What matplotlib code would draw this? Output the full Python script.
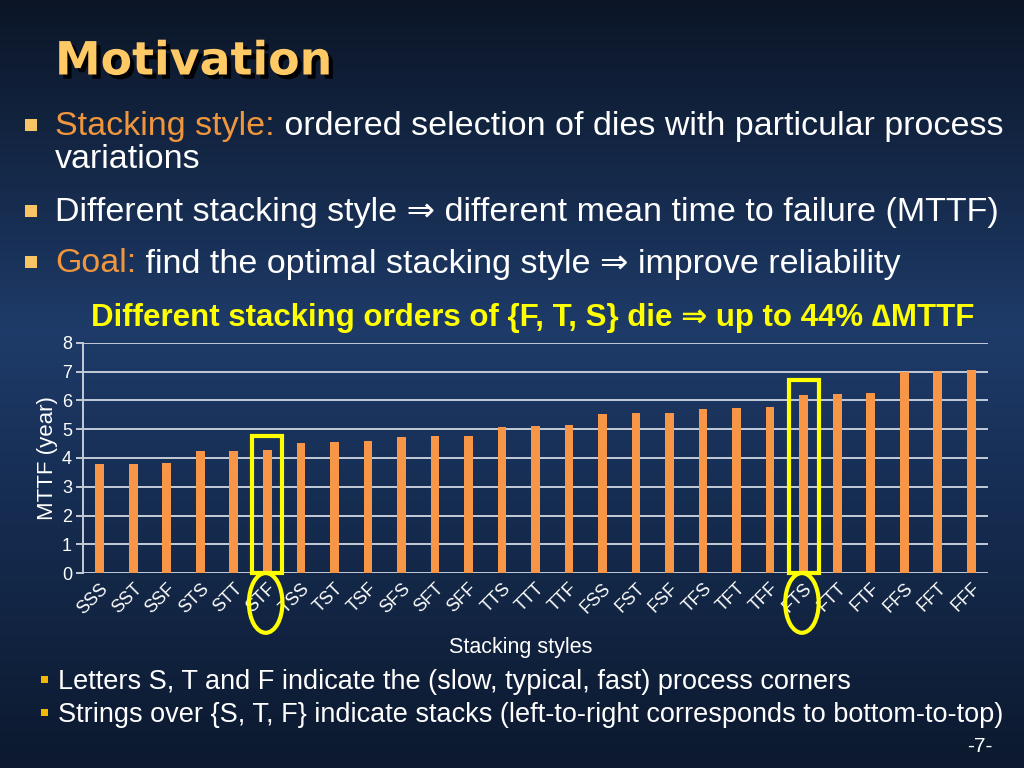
import matplotlib
matplotlib.use("Agg")
import matplotlib.pyplot as plt
import matplotlib.transforms as mtransforms
from matplotlib.patches import Rectangle, Ellipse
import matplotlib.patheffects as pe
import numpy as np

# dane wykresu
styles = ['SSS', 'SST', 'SSF', 'STS', 'STT', 'STF', 'TSS', 'TST', 'TSF',
          'SFS', 'SFT', 'SFF', 'TTS', 'TTT', 'TTF', 'FSS', 'FST', 'FSF',
          'TFS', 'TFT', 'TFF', 'FTS', 'FTT', 'FTF', 'FFS', 'FFT', 'FFF']
mttf = [3.79, 3.79, 3.81, 4.23, 4.26, 4.28, 4.53, 4.56, 4.59,
        4.74, 4.77, 4.78, 5.08, 5.10, 5.14, 5.52, 5.55, 5.58,
        5.70, 5.73, 5.76, 6.20, 6.23, 6.27, 6.99, 7.01, 7.06]
highlight = ['STF', 'FTS']
yticks = [0, 1, 2, 3, 4, 5, 6, 7, 8]

W, H = 1024, 768
ORANGE = '#F0963C'
BAR = '#F79646'
SANS = ['Liberation Sans', 'DejaVu Sans']

fig = plt.figure(figsize=(10.24, 7.68), dpi=100)

# tło z gradientem
bg = fig.add_axes([0, 0, 1, 1])
stops_y = [0, 330, 500, 768]
stops_c = np.array([[0x0b, 0x15, 0x26], [0x1e, 0x3b, 0x69], [0x16, 0x2d, 0x52], [0x0c, 0x19, 0x2e]]) / 255
rows = np.arange(H)
grad = np.stack([np.interp(rows, stops_y, stops_c[:, k]) for k in range(3)], axis=1)
img = np.repeat(grad[:, None, :], W, axis=1)
bg.imshow(img, extent=[0, W, H, 0], aspect='auto')
bg.set_xlim(0, W)
bg.set_ylim(H, 0)
bg.axis('off')


def pieces(x, y, parts, size, family=SANS, weight='normal'):
    "tekst z kilku kolorowych kawałków w jednej linii"
    r = fig.canvas.get_renderer()
    for txt, col in parts:
        t = bg.text(x, y, txt, color=col, fontsize=size, family=family,
                    weight=weight, va='center', ha='left')
        bb = t.get_window_extent(renderer=r)
        x += bb.width * W / fig.bbox.width


def bullet(x, y, s, col):
    bg.add_patch(Rectangle((x - s / 2, y - s / 2), s, s, color=col, lw=0))


# tytuł
bg.text(55, 62, 'Motivation', color='#FFC966', fontsize=33, weight='bold',
        family=['DejaVu Sans'], va='center', ha='left',
        path_effects=[pe.withSimplePatchShadow(offset=(3, -3), shadow_rgbFace='black', alpha=0.9)])

# punkty
bullet(31, 125, 12, '#F9C464')
pieces(55, 127, [('Stacking style:', ORANGE),
                 (' ordered selection of dies with particular process', 'white')], 24.5)
pieces(55, 160, [('variations', 'white')], 24.5)
bullet(31, 211, 12, '#F9C464')
pieces(55, 213, [('Different stacking style \u21d2 different mean time to failure (MTTF)', 'white')], 24.5)
bullet(31, 262, 12, '#F9C464')
pieces(55, 264, [('Goal:', ORANGE),
                 (' find the optimal stacking style \u21d2 improve reliability', 'white')], 24.5)

# tytuł wykresu
bg.text(533, 318, 'Different stacking orders of {F, T, S} die \u21d2 up to 44% \u2206MTTF',
        color='#FFFF00', fontsize=22.5, weight='bold', family=SANS, ha='center', va='center')

# wykres słupkowy
ax = fig.add_axes([83 / W, 1 - 573 / H, (988 - 83) / W, (573 - 343) / H])
ax.patch.set_alpha(0)
x = np.arange(len(styles))
ax.bar(x, mttf, width=0.26, color=BAR, zorder=3)
ax.set_xlim(-0.5, len(styles) - 0.5)
ax.set_ylim(0, 8)
ax.set_yticks(yticks)
ax.grid(axis='y', color='#c4ccd8', lw=1.4, zorder=1)
for s in ['top', 'right', 'bottom']:
    ax.spines[s].set_visible(False)
ax.spines['left'].set_color('#c4ccd8')
ax.spines['left'].set_linewidth(1.4)
ax.tick_params(axis='y', colors='white', labelsize=13, length=5, width=1.4, pad=3)
ax.tick_params(axis='y', color='#c4ccd8')
ax.set_xticks(x)
ax.set_xticklabels(styles, rotation=45, ha='right', rotation_mode='anchor',
                   color='white', fontsize=13, family=SANS)
ax.tick_params(axis='x', length=0, pad=5)
for lab in ax.get_yticklabels():
    lab.set_family(SANS)
ax.set_ylabel('MTTF (year)', color='white', fontsize=16, family=SANS, labelpad=3)
ax.set_xlabel('Stacking styles', color='white', fontsize=15.5, family=SANS)
ax.xaxis.set_label_coords((521 - 83) / 905, (573 - 647) / 230)
ax.xaxis.label.set_va('center')

# zaznaczenia
blend = mtransforms.blended_transform_factory(ax.transData, ax.transAxes)
for name in highlight:
    i = styles.index(name)
    ax.add_patch(Rectangle((i - 0.45, 0), 0.9, mttf[i] + 0.5, fill=False,
                           ec='#FFFF00', lw=3, zorder=4, clip_on=False))
    ax.add_patch(Ellipse((i - 0.05, -0.13), 1.0, 0.26, transform=blend, fill=False,
                         ec='#FFFF00', lw=3, zorder=4, clip_on=False))

# przypisy
bullet(44, 679, 7, '#F5B800')
pieces(58, 682, [('Letters S, T and F indicate the (slow, typical, fast) process corners', 'white')], 19.5)
bullet(44, 712, 7, '#F5B800')
pieces(58, 715, [('Strings over {S, T, F} indicate stacks (left-to-right corresponds to bottom-to-top)', 'white')], 19.5)
bg.text(992, 746, '-7-', color='white', fontsize=15, family=SANS, ha='right', va='center')

fig.savefig('out.png', dpi=100)
